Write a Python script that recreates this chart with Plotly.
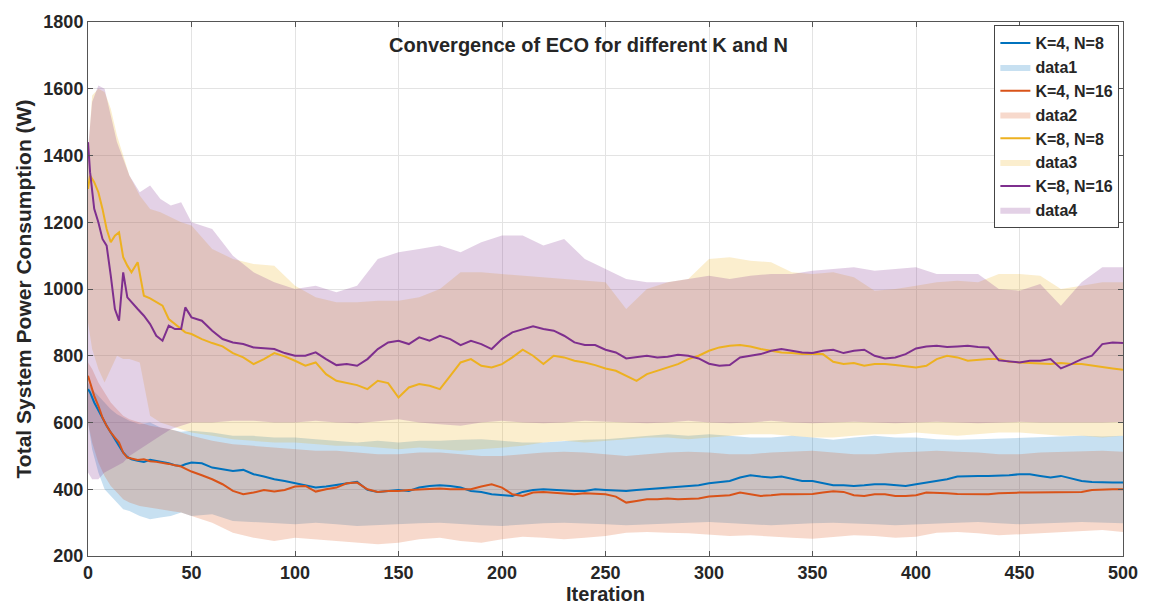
import plotly.graph_objects as go

# ---- iteration grids -------------------------------------------------------
LINE_X = [0, 1, 3, 5, 7, 9, 11, 13, 15, 17, 19, 21, 24, 27, 30, 33, 36, 39, 42, 45, 47, 50,
          55, 60, 65, 70, 75, 80, 85, 90, 95, 100,
          105, 110, 115, 120, 125, 130, 135, 140, 145, 150,
          155, 160, 165, 170, 175, 180, 185, 190, 195, 200,
          205, 210, 215, 220, 225, 230, 235, 240, 245, 250,
          255, 260, 265, 270, 275, 280, 285, 290, 295, 300,
          305, 310, 315, 320, 325, 330, 335, 340, 345, 350,
          355, 360, 365, 370, 375, 380, 385, 390, 395, 400,
          405, 410, 415, 420, 425, 430, 435, 440, 445, 450,
          455, 460, 465, 470, 475, 480, 485, 490, 495, 500]

BAND_X = [0, 2, 5, 8, 11, 14, 17, 20, 25, 30, 35, 40, 45, 50,
          60, 70, 80, 90, 100, 110, 120, 130, 140, 150,
          160, 170, 180, 190, 200, 210, 220, 230, 240, 250,
          260, 270, 280, 290, 300, 310, 320, 330, 340, 350,
          360, 370, 380, 390, 400, 410, 420, 430, 440, 450,
          460, 470, 480, 490, 500]

# ---- mean curves (W) -------------------------------------------------------
K4_N8 = [700, 690, 660, 635, 610, 590, 570, 550, 530, 510, 497, 490, 485, 482, 488, 485, 480, 478, 472, 470, 475, 480,
         478, 465, 460, 455, 458, 445, 438, 430, 425, 418,
         412, 405, 408, 412, 418, 422, 398, 392, 395, 398,
         395, 405, 410, 412, 410, 405, 395, 392, 385, 382,
         380, 392, 398, 400, 398, 395, 395, 395, 400, 398,
         396, 395, 398, 400, 403, 405, 408, 410, 412, 418,
         422, 425, 435, 442, 438, 435, 438, 432, 425, 425,
         418, 412, 412, 410, 412, 415, 415, 412, 410, 415,
         420, 425, 430, 438, 440, 440, 440, 440, 442, 445,
         445, 440, 435, 440, 432, 425, 422, 420, 420, 420]

K4_N16 = [740, 720, 680, 650, 615, 590, 570, 555, 540, 510, 495, 492, 488, 490, 484, 482, 480, 476, 472, 468, 462, 453,
          442, 430, 415, 395, 385, 390, 398, 393, 398, 408,
          410, 393, 400, 405, 418, 420, 400, 392, 395, 395,
          398, 400, 400, 402, 400, 400, 400, 408, 415, 405,
          385, 380, 390, 392, 390, 388, 385, 388, 386, 385,
          378, 360, 365, 370, 370, 372, 370, 370, 372, 378,
          380, 382, 390, 385, 380, 382, 385, 385, 385, 386,
          390, 394, 392, 382, 380, 385, 385, 380, 380, 382,
          390, 390, 388, 386, 385, 385, 385, 388, 390, 390,
          390, 390, 390, 390, 390, 392, 398, 400, 400, 400]

K8_N8 = [1300, 1340, 1320, 1290, 1240, 1180, 1140, 1160, 1170, 1095, 1070, 1050, 1080, 980, 972, 960, 950, 910, 895, 880, 870, 865,
         850, 838, 828, 808, 795, 775, 790, 808, 798, 785,
         770, 780, 745, 725, 718, 712, 700, 725, 718, 675,
         705, 715, 710, 700, 740, 780, 790, 770, 765, 775,
         795, 818, 800, 775, 800, 795, 785, 780, 772, 762,
         755, 740, 725, 745, 755, 765, 775, 790, 800, 815,
         825, 830, 832, 828, 820, 815, 810, 808, 805, 805,
         805, 782, 775, 778, 770, 775, 775, 772, 768, 765,
         770, 790, 800, 795, 785, 788, 790, 790, 782, 780,
         778, 775, 775, 778, 775, 775, 770, 765, 762, 758]

K8_N16 = [1440, 1350, 1240, 1200, 1150, 1130, 1040, 940, 905, 1050, 975, 960, 940, 920, 895, 860, 845, 890, 880, 880, 945, 915,
          905, 875, 850, 840, 835, 825, 822, 820, 808, 800,
          800, 810, 790, 772, 775, 770, 790, 820, 840, 845,
          835, 855, 845, 860, 850, 832, 845, 835, 820, 850,
          870, 880, 888, 880, 875, 860, 840, 832, 832, 818,
          810, 792, 797, 800, 795, 797, 803, 800, 792, 776,
          770, 772, 795, 800, 805, 815, 820, 815, 810, 808,
          815, 818, 808, 815, 818, 800, 792, 795, 805, 822,
          828, 830, 826, 828, 830, 826, 825, 786, 782, 780,
          785, 785, 790, 762, 775, 790, 800, 835, 840, 838]

# ---- spread bands (lower / upper, W) ---------------------------------------
K4_N8_LO = [600, 520, 450, 400, 380, 360, 340, 335, 320, 310, 315, 320, 330, 320,
            325, 305, 300, 298, 295, 300, 295, 290, 292, 295,
            298, 300, 295, 292, 290, 295, 298, 300, 298, 295,
            292, 295, 298, 300, 302, 298, 295, 292, 295, 298,
            300, 298, 295, 292, 295, 298, 300, 302, 298, 295,
            298, 300, 302, 300, 298]
K4_N8_HI = [720, 700, 680, 660, 640, 625, 615, 605, 595, 600, 585, 578, 572, 575,
            570, 560, 560, 555, 555, 550, 545, 540, 545, 540,
            545, 545, 548, 550, 545, 540, 540, 545, 548, 550,
            555, 560, 565, 560, 565, 560, 555, 555, 560, 555,
            548, 555, 560, 555, 555, 550, 548, 550, 552, 555,
            558, 560, 560, 558, 560]

K4_N16_LO = [600, 540, 480, 440, 410, 390, 370, 360, 350, 345, 340, 335, 330, 320,
             300, 270, 255, 245, 255, 250, 245, 240, 235, 240,
             250, 255, 245, 240, 250, 258, 255, 250, 255, 260,
             270, 272, 270, 268, 265, 260, 262, 258, 255, 252,
             258, 262, 260, 255, 258, 270, 272, 268, 262, 265,
             270, 272, 275, 278, 272]
K4_N16_HI = [780, 760, 720, 690, 660, 640, 620, 610, 600, 590, 585, 580, 570, 560,
             545, 535, 530, 525, 520, 515, 515, 510, 505, 505,
             510, 510, 505, 500, 500, 505, 510, 512, 510, 505,
             500, 505, 510, 512, 510, 505, 505, 510, 512, 515,
             510, 505, 505, 510, 512, 515, 512, 510, 505, 505,
             510, 512, 515, 515, 512]

K8_N8_LO = [900, 820, 760, 720, 760, 800, 790, 790, 780, 620, 600, 590, 580, 570,
            560, 550, 545, 540, 540, 535, 530, 530, 525, 520,
            525, 520, 515, 520, 525, 530, 540, 545, 540, 545,
            550, 555, 555, 550, 555, 560, 565, 565, 560, 555,
            555, 560, 565, 565, 570, 565, 560, 565, 570, 570,
            565, 560, 560, 555, 560]
K8_N8_HI = [1400, 1580, 1600, 1590, 1540, 1460, 1400, 1340, 1280, 1240, 1230, 1215, 1200, 1190,
            1120, 1090, 1075, 1070, 1010, 975, 960, 960, 965, 965,
            975, 1000, 1050, 1050, 1045, 1040, 1035, 1030, 1025, 1020,
            940, 1000, 1020, 1030, 1090, 1095, 1085, 1080, 1050, 1045,
            1050, 1035, 995, 1000, 1010, 1020, 1025, 1020, 1045, 1045,
            1040, 1000, 1010, 1020, 1020]

K8_N16_LO = [450, 430, 430, 450, 460, 470, 480, 500, 520, 540, 560, 580, 590, 600,
             600, 605, 605, 600, 600, 605, 600, 598, 605, 610,
             600, 595, 590, 600, 605, 600, 598, 600, 605, 602,
             600, 598, 600, 605, 600, 598, 600, 605, 600, 598,
             600, 602, 600, 598, 600, 602, 600, 598, 600, 602,
             600, 598, 600, 600, 602]
K8_N16_HI = [1420, 1560, 1610, 1600, 1520, 1440, 1390, 1340, 1290, 1310, 1270, 1250, 1260, 1200,
             1180, 1100, 1050, 1020, 1000, 1010, 990, 1010, 1090, 1110,
             1120, 1130, 1110, 1140, 1160, 1160, 1130, 1150, 1090, 1060,
             1030, 1020, 1020, 1030, 1040, 1030, 1040, 1045, 1045, 1055,
             1060, 1065, 1055, 1060, 1065, 1045, 1045, 1045, 1000, 995,
             1015, 950, 1020, 1065, 1065]

LINE_NAMES = ["K=4, N=8", "K=4, N=16", "K=8, N=8", "K=8, N=16"]
BAND_NAMES = ["data1", "data2", "data3", "data4"]
COLORS = ["#0072BD", "#D95319", "#EDB120", "#7E2F8E"]
FILLS = ["rgba(0,114,189,0.22)", "rgba(217,83,25,0.22)",
         "rgba(237,177,32,0.22)", "rgba(126,47,142,0.22)"]

means = [K4_N8, K4_N16, K8_N8, K8_N16]
lows = [K4_N8_LO, K4_N16_LO, K8_N8_LO, K8_N16_LO]
highs = [K4_N8_HI, K4_N16_HI, K8_N8_HI, K8_N16_HI]

FONT = "Arial, Liberation Sans, sans-serif"
TXT = "#262626"

fig = go.Figure()

# shaded spread regions first so the curves sit on top
for i in range(4):
    fig.add_trace(go.Scatter(
        x=BAND_X + BAND_X[::-1],
        y=highs[i] + lows[i][::-1],
        fill="toself", fillcolor=FILLS[i],
        line=dict(width=0), mode="lines",
        name=BAND_NAMES[i], legendrank=2 * i + 2,
        hoverinfo="skip",
    ))

for i in range(4):
    fig.add_trace(go.Scatter(
        x=LINE_X, y=means[i], mode="lines",
        line=dict(color=COLORS[i], width=2),
        name=LINE_NAMES[i], legendrank=2 * i + 1,
    ))

axis_common = dict(
    showgrid=True, gridcolor="#e3e3e3", gridwidth=1,
    showline=True, linecolor="#555555", linewidth=1, mirror="ticks",
    ticks="inside", ticklen=5, tickcolor="#555555",
    tickfont=dict(family=FONT, size=18, color=TXT, weight="bold"),
    zeroline=False,
)

fig.update_layout(
    width=1150, height=611,
    margin=dict(l=88, r=20, t=21, b=41),
    paper_bgcolor="white", plot_bgcolor="white",
    font=dict(family=FONT, color=TXT),
    xaxis=dict(range=[0, 500], dtick=50,
               title=dict(text="Iteration", standoff=2,
                          font=dict(family=FONT, size=20, color=TXT, weight="bold")),
               **axis_common),
    yaxis=dict(range=[200, 1800], dtick=200,
               title=dict(text="Total System Power Consumption (W)", standoff=6,
                          font=dict(family=FONT, size=21, color=TXT, weight="bold")),
               **axis_common),
    legend=dict(
        x=0.9965, y=0.994, xanchor="right", yanchor="top",
        bgcolor="white", bordercolor="#444444", borderwidth=1,
        font=dict(family=FONT, size=16, color=TXT, weight="bold"),
        itemwidth=30, tracegroupgap=0,
    ),
    annotations=[dict(
        text="Convergence of ECO for different K and N",
        xref="paper", yref="paper", x=0.484, y=0.956,
        xanchor="center", yanchor="middle", showarrow=False,
        font=dict(family=FONT, size=20, color=TXT, weight="bold"),
    )],
    showlegend=True,
)

fig.write_html("out.html")
